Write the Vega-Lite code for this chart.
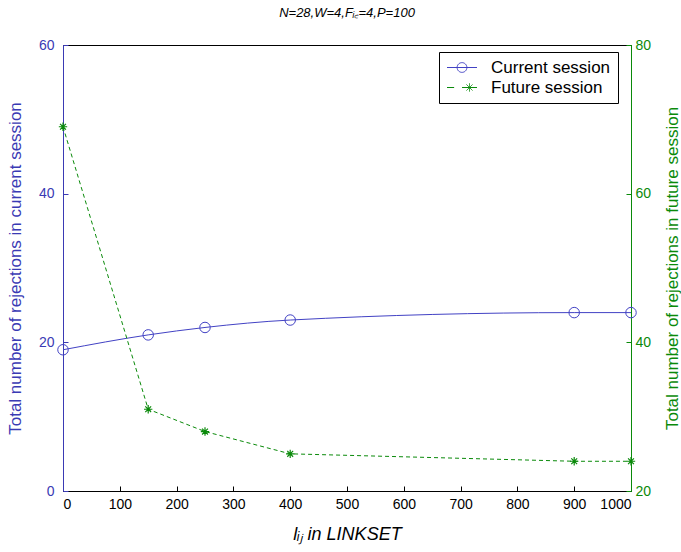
{
  "$schema": "https://vega.github.io/schema/vega-lite/v6.json",
  "width": 568,
  "height": 446,
  "autosize": {"type": "none"},
  "padding": {"left": 63, "top": 45, "right": 50, "bottom": 61},
  "background": "white",
  "config": {
    "font": "Liberation Sans",
    "view": {"stroke": "black", "strokeWidth": 1},
    "axis": {"grid": false, "labelFontSize": 14, "titleFontWeight": "normal", "labelFont": "Liberation Sans", "titleFont": "Liberation Sans", "tickSize": -5}
  },
  "title": {"text": "N=28,W=4,Fᵢ꜀=4,P=100", "fontSize": 13, "fontStyle": "italic", "fontWeight": "normal", "offset": 18, "color": "black"},
  "data": {"values": [
    {"x": 0, "series": "Current session", "cur": 19},
    {"x": 150, "series": "Current session", "cur": 21},
    {"x": 250, "series": "Current session", "cur": 22},
    {"x": 400, "series": "Current session", "cur": 23},
    {"x": 900, "series": "Current session", "cur": 24},
    {"x": 1000, "series": "Current session", "cur": 24},
    {"x": 0, "series": "Future session", "fut": 69},
    {"x": 150, "series": "Future session", "fut": 31},
    {"x": 250, "series": "Future session", "fut": 28},
    {"x": 400, "series": "Future session", "fut": 25},
    {"x": 900, "series": "Future session", "fut": 24},
    {"x": 1000, "series": "Future session", "fut": 24}
  ]},
  "encoding": {
    "x": {"field": "x", "type": "quantitative", "scale": {"domain": [0, 1000], "nice": false},
      "axis": {"values": [0,100,200,300,400,500,600,700,800,900,1000], "format": "d", "title": "lᵢⱼ in LINKSET", "titleFontSize": 18, "titleFontStyle": "italic", "titlePadding": 14, "labelColor": "black", "domainColor": "black", "tickColor": "black", "labelPadding": 11}}
  },
  "layer": [
    {
      "transform": [{"filter": "datum.series == 'Current session'"}],
      "encoding": {
        "y": {"field": "cur", "type": "quantitative", "scale": {"domain": [0, 60], "nice": false},
          "axis": {"orient": "left", "values": [0, 20, 40, 60], "title": "Total number of rejections in current session", "titleFontSize": 17, "titleColor": "#3a3ab4", "labelColor": "#3a3ab4", "domainColor": "#3a3ab4", "tickColor": "#3a3ab4", "titlePadding": 14, "labelPadding": 14}},
        "color": {"field": "series", "type": "nominal", "scale": {"domain": ["Current session", "Future session"], "range": ["#4242c4", "#0a8a0a"]},
          "legend": {"title": null, "orient": "none", "legendX": 376, "legendY": 7, "strokeColor": "black", "fillColor": "white", "padding": 7, "labelFontSize": 17, "symbolSize": 225, "symbolStrokeWidth": 1, "rowPadding": 2, "labelOffset": 28, "labelColor": "black",
            "encode": {"symbols": {"update": {
              "shape": {"signal": "datum.value == 'Current session' ? 'M-1,0L3,0M1.65,0A0.65,0.65 0 1,1 0.35,0A0.65,0.65 0 1,1 1.65,0' : 'M-1,0L-0.05,0M1,0L3,0M2,-0.55L2,0.55M1.45,0L2.55,0M1.6,-0.4L2.4,0.4M1.6,0.4L2.4,-0.4'"},
              "fill": {"value": "transparent"},
              "strokeDash": {"value": [1, 0]}
            }}}}}
      },
      "layer": [
        {"mark": {"type": "line", "strokeWidth": 1, "interpolate": "monotone"}},
        {"mark": {"type": "point", "shape": "circle", "filled": false, "size": 110, "strokeWidth": 1, "opacity": 1}}
      ]
    },
    {
      "transform": [{"filter": "datum.series == 'Future session'"}],
      "encoding": {
        "y": {"field": "fut", "type": "quantitative", "scale": {"domain": [20, 80], "nice": false},
          "axis": {"orient": "right", "values": [20, 40, 60, 80], "title": "Total number of rejections in future session", "titleAngle": 270, "titleFontSize": 17, "titleColor": "#0a8a0a", "labelColor": "#0a8a0a", "domainColor": "#0a8a0a", "tickColor": "#0a8a0a", "titlePadding": 31, "labelPadding": 9}},
        "color": {"field": "series", "type": "nominal", "scale": {"domain": ["Current session", "Future session"], "range": ["#4242c4", "#0a8a0a"]}}
      },
      "layer": [
        {"mark": {"type": "line", "strokeWidth": 1, "strokeDash": [4, 3]}},
        {"mark": {"type": "point", "shape": "M-1,0L1,0M0,-1L0,1M-0.7,-0.7L0.7,0.7M-0.7,0.7L0.7,-0.7", "filled": false, "size": 70, "strokeWidth": 1.2, "opacity": 1}}
      ]
    }
  ],
  "resolve": {"scale": {"y": "independent"}}
}
